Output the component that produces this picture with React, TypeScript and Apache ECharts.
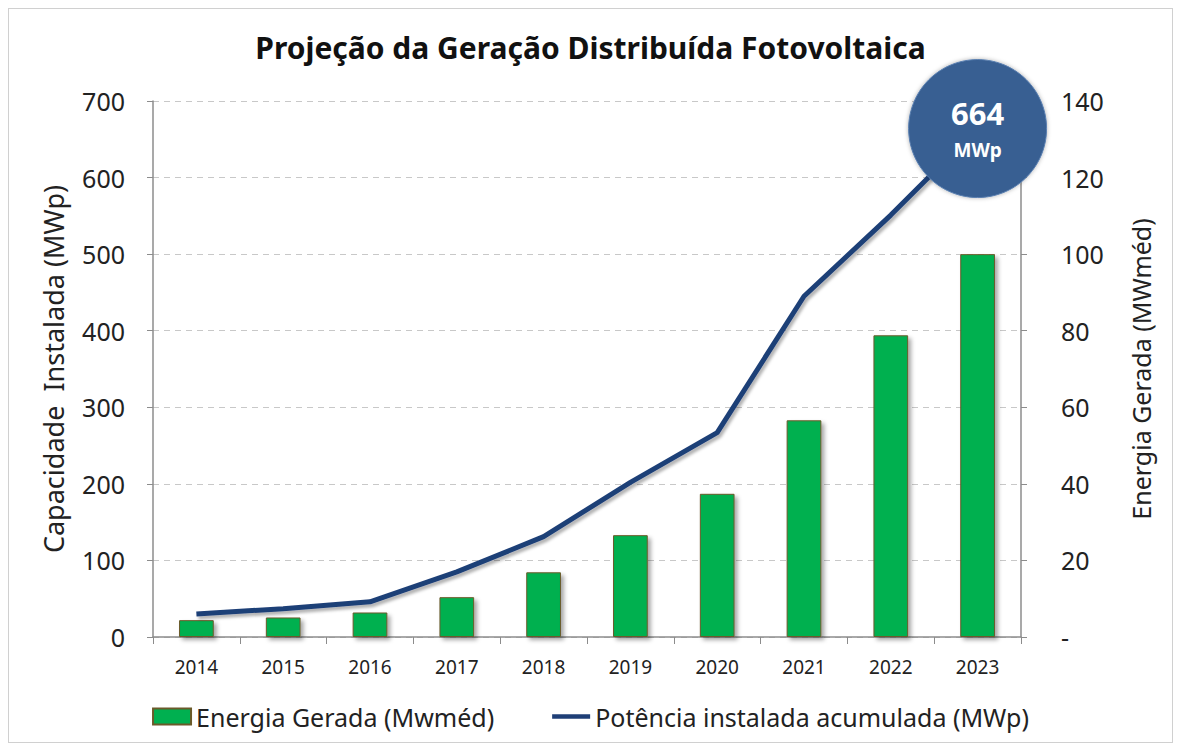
import React, { useEffect, useRef } from "react";
import * as echarts from "echarts";

const years = ["2014", "2015", "2016", "2017", "2018", "2019", "2020", "2021", "2022", "2023"];
const energiaGerada = [4.4, 5.1, 6.4, 10.4, 16.9, 26.6, 37.4, 56.6, 78.8, 100];
const potenciaAcumulada = [30, 37, 46, 85, 131, 202, 267, 445, 551, 664];
const leftTicks = { min: 0, max: 700, interval: 100 };
const rightTicks = { min: 0, max: 140, interval: 20 };

const FONT = "'Noto Sans', sans-serif";

export default function App() {
  const ref = useRef<HTMLDivElement>(null);
  useEffect(() => {
    if (!ref.current) return;
    const chart = echarts.init(ref.current, undefined, { renderer: "svg" });
    const last = years.length - 1;
    chart.setOption({
      animation: false,
      backgroundColor: "#ffffff",
      textStyle: { fontFamily: FONT },
      title: {
        text: "Projeção da Geração Distribuída Fotovoltaica",
        left: "center",
        top: 18,
        textStyle: { fontFamily: FONT, fontWeight: "bold", fontSize: 30, color: "#111" },
      },
      grid: { left: 144, right: 151, top: 92, bottom: 105 },
      legend: {
        bottom: 8,
        left: "center",
        itemWidth: 38,
        itemHeight: 16,
        itemGap: 58,
        textStyle: { fontFamily: FONT, fontSize: 25, color: "#222" },
        data: [
          { name: "Energia Gerada (Mwméd)", icon: "rect" },
          { name: "Potência instalada acumulada (MWp)", icon: "path://M0,0 L42,0 L42,5 L0,5 Z" },
        ],
      },
      xAxis: {
        type: "category",
        data: years,
        axisLine: { lineStyle: { color: "#8c8c8c", width: 1.5 } },
        axisTick: { show: true, length: 7, lineStyle: { color: "#8c8c8c" } },
        axisLabel: { fontFamily: FONT, fontSize: 19, color: "#222", margin: 20 },
      },
      yAxis: [
        {
          type: "value",
          ...leftTicks,
          name: "Capacidade  Instalada (MWp)",
          nameLocation: "middle",
          nameRotate: 90,
          nameGap: 86,
          nameTextStyle: { fontFamily: FONT, fontSize: 27, color: "#222" },
          axisLine: { show: true, lineStyle: { color: "#8c8c8c", width: 1.5 } },
          axisTick: { show: true, length: 6, lineStyle: { color: "#8c8c8c" } },
          axisLabel: { fontFamily: FONT, fontSize: 25, color: "#222", margin: 28 },
          splitLine: { show: true, lineStyle: { color: "#c8c8c8", type: [6, 5], width: 1.2 } },
        },
        {
          type: "value",
          ...rightTicks,
          position: "right",
          name: "Energia Gerada (MWméd)",
          nameLocation: "middle",
          nameRotate: 90,
          nameGap: 107,
          nameTextStyle: { fontFamily: FONT, fontSize: 25, color: "#222" },
          axisLine: { show: true, lineStyle: { color: "#8c8c8c", width: 1.5 } },
          axisTick: { show: true, length: 6, lineStyle: { color: "#8c8c8c" } },
          axisLabel: {
            fontFamily: FONT,
            fontSize: 25,
            color: "#222",
            margin: 40,
            formatter: (v: number) => (v === 0 ? "-" : String(v)),
          },
          splitLine: { show: false },
        },
      ],
      series: [
        {
          name: "Energia Gerada (Mwméd)",
          type: "bar",
          yAxisIndex: 1,
          data: energiaGerada,
          barWidth: "40%",
          itemStyle: {
            color: "#00b050",
            borderColor: "#6b5a2a",
            borderWidth: 1,
            shadowColor: "rgba(0,0,0,0.35)",
            shadowBlur: 4,
            shadowOffsetX: 3,
            shadowOffsetY: 3,
          },
        },
        {
          name: "Potência instalada acumulada (MWp)",
          type: "line",
          yAxisIndex: 0,
          data: potenciaAcumulada,
          symbol: "none",
          itemStyle: { color: "#1f3f77" },
          lineStyle: {
            color: "#1f3f77",
            width: 5,
            shadowColor: "rgba(0,0,0,0.3)",
            shadowBlur: 3,
            shadowOffsetX: 2,
            shadowOffsetY: 3,
          },
          markPoint: {
            symbol: "circle",
            symbolSize: 138,
            itemStyle: {
              color: "#375f92",
              borderColor: "#5a7fb0",
              borderWidth: 1,
              shadowColor: "rgba(0,0,0,0.3)",
              shadowBlur: 4,
            },
            label: {
              show: true,
              position: "inside",
              formatter: () => "{a|" + potenciaAcumulada[last] + "}\n{b|MWp}",
              rich: {
                a: { fontFamily: FONT, fontWeight: "bold", fontSize: 31, color: "#fff", lineHeight: 42 },
                b: { fontFamily: FONT, fontWeight: "bold", fontSize: 19, color: "#fff", lineHeight: 32 },
              },
            },
            data: [{ coord: [years[last], potenciaAcumulada[last]] }],
          },
        },
      ],
    });
    return () => chart.dispose();
  }, []);
  return (
    <div
      ref={ref}
      style={{ width: 1165, height: 735, border: "1px solid #d0d0d0", boxSizing: "border-box" }}
    />
  );
}
